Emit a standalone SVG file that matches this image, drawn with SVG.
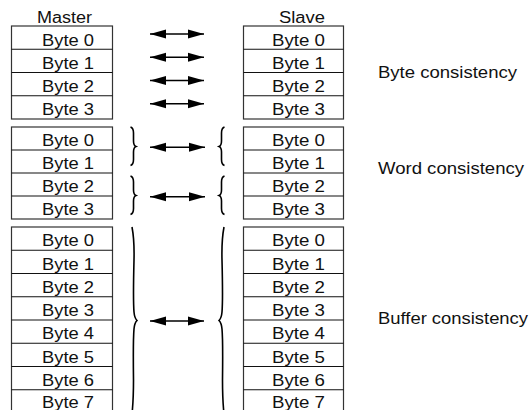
<svg xmlns="http://www.w3.org/2000/svg" width="529" height="410" viewBox="0 0 529 410">
<style>
  .box { fill: #fff; stroke: #333; stroke-width: 1.2; }
  .sep { stroke: #111; stroke-width: 1.1; }
  text { font-family: "Liberation Sans", Arial, Helvetica, sans-serif; font-size: 16px; fill: #111; }
  .conn { stroke: #000; stroke-width: 1.5; fill: none; }
  .brace { stroke: #000; stroke-width: 1.6; fill: none; }
</style>
<defs>
  <marker id="ah" markerUnits="userSpaceOnUse" markerWidth="17" markerHeight="11" viewBox="0 0 17 11" refX="16" refY="5.5" orient="auto-start-reverse">
    <path d="M0,1 L16,5.5 L0,10 Z" fill="#000"/>
  </marker>
</defs>

<g id="label-master"><text x="37" y="23" textLength="55" lengthAdjust="spacingAndGlyphs">Master</text></g>
<g id="label-slave"><text x="279" y="23" textLength="46" lengthAdjust="spacingAndGlyphs">Slave</text></g>

<g id="master-byte">
  <rect class="box" x="11.5" y="26" width="101" height="93"/>
  <line class="sep" x1="11.5" y1="49.25" x2="112.5" y2="49.25"/>
  <line class="sep" x1="11.5" y1="72.5" x2="112.5" y2="72.5"/>
  <line class="sep" x1="11.5" y1="95.75" x2="112.5" y2="95.75"/>
  <text x="42" y="45.5" textLength="52" lengthAdjust="spacingAndGlyphs">Byte 0</text>
  <text x="42" y="68.7" textLength="52" lengthAdjust="spacingAndGlyphs">Byte 1</text>
  <text x="42" y="92" textLength="52" lengthAdjust="spacingAndGlyphs">Byte 2</text>
  <text x="42" y="115.2" textLength="52" lengthAdjust="spacingAndGlyphs">Byte 3</text>
</g>
<g id="slave-byte">
  <rect class="box" x="243.5" y="26" width="100" height="93"/>
  <line class="sep" x1="243.5" y1="49.25" x2="343.5" y2="49.25"/>
  <line class="sep" x1="243.5" y1="72.5" x2="343.5" y2="72.5"/>
  <line class="sep" x1="243.5" y1="95.75" x2="343.5" y2="95.75"/>
  <text x="272" y="45.5" textLength="53" lengthAdjust="spacingAndGlyphs">Byte 0</text>
  <text x="272" y="68.7" textLength="53" lengthAdjust="spacingAndGlyphs">Byte 1</text>
  <text x="272" y="92" textLength="53" lengthAdjust="spacingAndGlyphs">Byte 2</text>
  <text x="272" y="115.2" textLength="53" lengthAdjust="spacingAndGlyphs">Byte 3</text>
</g>

<g id="master-word">
  <rect class="box" x="11.5" y="127" width="101" height="92"/>
  <line class="sep" x1="11.5" y1="150" x2="112.5" y2="150"/>
  <line class="sep" x1="11.5" y1="173" x2="112.5" y2="173"/>
  <line class="sep" x1="11.5" y1="196" x2="112.5" y2="196"/>
  <text x="42" y="146.3" textLength="52" lengthAdjust="spacingAndGlyphs">Byte 0</text>
  <text x="42" y="169.3" textLength="52" lengthAdjust="spacingAndGlyphs">Byte 1</text>
  <text x="42" y="192.3" textLength="52" lengthAdjust="spacingAndGlyphs">Byte 2</text>
  <text x="42" y="215.3" textLength="52" lengthAdjust="spacingAndGlyphs">Byte 3</text>
</g>
<g id="slave-word">
  <rect class="box" x="243.5" y="127" width="100" height="92"/>
  <line class="sep" x1="243.5" y1="150" x2="343.5" y2="150"/>
  <line class="sep" x1="243.5" y1="173" x2="343.5" y2="173"/>
  <line class="sep" x1="243.5" y1="196" x2="343.5" y2="196"/>
  <text x="272" y="146.3" textLength="53" lengthAdjust="spacingAndGlyphs">Byte 0</text>
  <text x="272" y="169.3" textLength="53" lengthAdjust="spacingAndGlyphs">Byte 1</text>
  <text x="272" y="192.3" textLength="53" lengthAdjust="spacingAndGlyphs">Byte 2</text>
  <text x="272" y="215.3" textLength="53" lengthAdjust="spacingAndGlyphs">Byte 3</text>
</g>

<g id="master-buffer">
  <rect class="box" x="11.5" y="227" width="101" height="190"/>
  <line class="sep" x1="11.5" y1="250.25" x2="112.5" y2="250.25"/>
  <line class="sep" x1="11.5" y1="273.5" x2="112.5" y2="273.5"/>
  <line class="sep" x1="11.5" y1="296.75" x2="112.5" y2="296.75"/>
  <line class="sep" x1="11.5" y1="320" x2="112.5" y2="320"/>
  <line class="sep" x1="11.5" y1="343.25" x2="112.5" y2="343.25"/>
  <line class="sep" x1="11.5" y1="366.5" x2="112.5" y2="366.5"/>
  <line class="sep" x1="11.5" y1="389.75" x2="112.5" y2="389.75"/>
  <text x="42" y="246.3" textLength="52" lengthAdjust="spacingAndGlyphs">Byte 0</text>
  <text x="42" y="269.5" textLength="52" lengthAdjust="spacingAndGlyphs">Byte 1</text>
  <text x="42" y="292.8" textLength="52" lengthAdjust="spacingAndGlyphs">Byte 2</text>
  <text x="42" y="316" textLength="52" lengthAdjust="spacingAndGlyphs">Byte 3</text>
  <text x="42" y="339.3" textLength="52" lengthAdjust="spacingAndGlyphs">Byte 4</text>
  <text x="42" y="362.5" textLength="52" lengthAdjust="spacingAndGlyphs">Byte 5</text>
  <text x="42" y="385.8" textLength="52" lengthAdjust="spacingAndGlyphs">Byte 6</text>
  <text x="42" y="407.5" textLength="52" lengthAdjust="spacingAndGlyphs">Byte 7</text>
</g>
<g id="slave-buffer">
  <rect class="box" x="243.5" y="227" width="100" height="190"/>
  <line class="sep" x1="243.5" y1="250.25" x2="343.5" y2="250.25"/>
  <line class="sep" x1="243.5" y1="273.5" x2="343.5" y2="273.5"/>
  <line class="sep" x1="243.5" y1="296.75" x2="343.5" y2="296.75"/>
  <line class="sep" x1="243.5" y1="320" x2="343.5" y2="320"/>
  <line class="sep" x1="243.5" y1="343.25" x2="343.5" y2="343.25"/>
  <line class="sep" x1="243.5" y1="366.5" x2="343.5" y2="366.5"/>
  <line class="sep" x1="243.5" y1="389.75" x2="343.5" y2="389.75"/>
  <text x="272" y="246.3" textLength="53" lengthAdjust="spacingAndGlyphs">Byte 0</text>
  <text x="272" y="269.5" textLength="53" lengthAdjust="spacingAndGlyphs">Byte 1</text>
  <text x="272" y="292.8" textLength="53" lengthAdjust="spacingAndGlyphs">Byte 2</text>
  <text x="272" y="316" textLength="53" lengthAdjust="spacingAndGlyphs">Byte 3</text>
  <text x="272" y="339.3" textLength="53" lengthAdjust="spacingAndGlyphs">Byte 4</text>
  <text x="272" y="362.5" textLength="53" lengthAdjust="spacingAndGlyphs">Byte 5</text>
  <text x="272" y="385.8" textLength="53" lengthAdjust="spacingAndGlyphs">Byte 6</text>
  <text x="272" y="407.5" textLength="53" lengthAdjust="spacingAndGlyphs">Byte 7</text>
</g>

<g id="label-byte"><text x="378" y="78" textLength="139" lengthAdjust="spacingAndGlyphs">Byte consistency</text></g>
<g id="label-word"><text x="378" y="173.5" textLength="146" lengthAdjust="spacingAndGlyphs">Word consistency</text></g>
<g id="label-buffer"><text x="378" y="323.5" textLength="150" lengthAdjust="spacingAndGlyphs">Buffer consistency</text></g>

<g id="connectors">
  <line class="conn" x1="150" y1="34" x2="204" y2="34" marker-start="url(#ah)" marker-end="url(#ah)"/>
  <line class="conn" x1="150" y1="57.3" x2="204" y2="57.3" marker-start="url(#ah)" marker-end="url(#ah)"/>
  <line class="conn" x1="150" y1="80.5" x2="204" y2="80.5" marker-start="url(#ah)" marker-end="url(#ah)"/>
  <line class="conn" x1="150" y1="103.8" x2="204" y2="103.8" marker-start="url(#ah)" marker-end="url(#ah)"/>

  <line class="conn" x1="150" y1="147.3" x2="205" y2="147.3" marker-start="url(#ah)" marker-end="url(#ah)"/>
  <line class="conn" x1="150" y1="196.7" x2="205" y2="196.7" marker-start="url(#ah)" marker-end="url(#ah)"/>
  <line class="conn" x1="150" y1="321" x2="204" y2="321" marker-start="url(#ah)" marker-end="url(#ah)"/>

  <path class="brace" d="M130.5,127 Q133.5,128 133.5,133 L133.5,141 Q133.5,145.5 136,146.5 Q133.5,147.5 133.5,152 L133.5,159.5 Q133.5,164.5 130.5,165.5"/>
  <path class="brace" d="M130.5,176 Q133.5,177 133.5,182 L133.5,190 Q133.5,194.5 136,195.5 Q133.5,196.5 133.5,201 L133.5,208.5 Q133.5,213.5 130.5,214.5"/>
  <path class="brace" d="M224.5,127 Q221.5,128 221.5,133 L221.5,141 Q221.5,145.5 219,146.5 Q221.5,147.5 221.5,152 L221.5,159.5 Q221.5,164.5 224.5,165.5"/>
  <path class="brace" d="M224.5,176 Q221.5,177 221.5,182 L221.5,190 Q221.5,194.5 219,195.5 Q221.5,196.5 221.5,201 L221.5,208.5 Q221.5,213.5 224.5,214.5"/>

  <path class="brace" d="M132,227 Q134.5,240 134,260 Q133,300 134,312 Q134.5,318 137,320.5 Q134.5,323 134,329 Q133,340 133.5,380 Q133.5,400 132,414"/>
  <path class="brace" d="M224,227 Q221.5,240 222,260 Q223,300 222,312 Q221.5,318 219,320.5 Q221.5,323 222,329 Q223,340 222.5,380 Q222.5,400 224,414"/>
</g>
</svg>
